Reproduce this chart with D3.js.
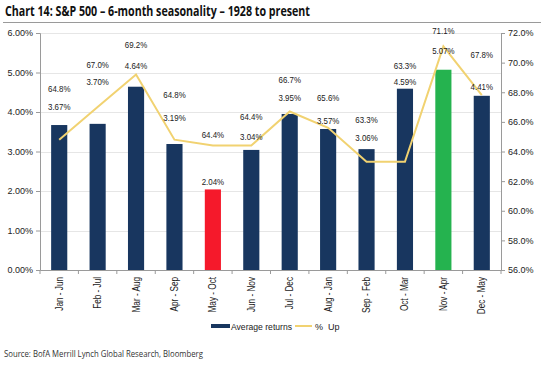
<!DOCTYPE html>
<html><head><meta charset="utf-8">
<script src="https://cdn.jsdelivr.net/npm/d3@7"></script>
<style>
body{margin:0;background:#fff;}
svg{display:block;font-family:"Liberation Sans",Arial,sans-serif;}
</style></head>
<body><svg id="c" width="543" height="366"></svg>
<script>
const categories = ["Jan - Jun","Feb - Jul","Mar - Aug","Apr - Sep","May - Oct","Jun - Nov","Jul - Dec","Aug - Jan","Sep - Feb","Oct - Mar","Nov - Apr","Dec - May"];
const avgReturns = [3.67,3.70,4.64,3.19,2.04,3.04,3.95,3.57,3.06,4.59,5.07,4.41];
const pctUp = [64.8,67.0,69.2,64.8,64.4,64.4,66.7,65.6,63.3,63.3,71.1,67.8];
const leftTicks = [0,1,2,3,4,5,6];
const rightTicks = [56,58,60,62,64,66,68,70,72];
// layout-only label nudges (px above bar top / gap between the two labels)
const valueLift = [18,42,21,26,8,13,16,8,11,7,19,9];
const pctGap = [18,17,21,23,47,20,18,23,18,16,20,32];

const navy = "#18365f", red = "#f5192b", green = "#25b34f", yellow = "#f1d271";
const barColor = (c) => c === "May - Oct" ? red : c === "Nov - Apr" ? green : navy;

const svg = d3.select("#c");
const L = 40, R = 501, T = 33, B = 270;
const x = d3.scaleBand().domain(categories).range([L, R]).paddingInner(0.58).paddingOuter(0.29);
const yL = d3.scaleLinear().domain([0, 6]).range([B, T]);
const yR = d3.scaleLinear().domain([56, 72]).range([B, T]);

// title
svg.append("text").attr("x", 5).attr("y", 16).attr("font-family", "'Open Sans',sans-serif")
  .attr("font-weight", "bold").attr("font-size", 14).attr("fill", "#111")
  .attr("textLength", 305).attr("lengthAdjust", "spacingAndGlyphs")
  .text("Chart 14: S\u0026P 500 \u2013 6-month seasonality \u2013 1928 to present");
svg.append("line").attr("x1", 3).attr("x2", 541).attr("y1", 22.5).attr("y2", 22.5)
  .attr("stroke", "#9a9a9a").attr("stroke-width", 1);

// gridlines
svg.append("g").selectAll("line").data(leftTicks.slice(1)).join("line")
  .attr("x1", L).attr("x2", R).attr("y1", d => Math.round(yL(d)) + 0.5).attr("y2", d => Math.round(yL(d)) + 0.5)
  .attr("stroke", "#e6e6e6");

// left axis
const gl = svg.append("g").attr("transform", `translate(${L},0)`)
  .call(d3.axisLeft(yL).tickValues(leftTicks).tickSize(4).tickPadding(3).tickFormat(d => d.toFixed(2) + "%"));
// right axis
const gr = svg.append("g").attr("transform", `translate(${R},0)`)
  .call(d3.axisRight(yR).tickValues(rightTicks).tickSize(4).tickPadding(3).tickFormat(d => d.toFixed(1) + "%"));
[gl, gr].forEach(g => {
  g.select(".domain").attr("stroke", "#9a9a9a");
  g.selectAll(".tick line").attr("stroke", "#9a9a9a");
  g.selectAll("text").attr("font-size", 9).attr("fill", "#222").attr("font-family", "'Liberation Sans',Arial,sans-serif");
});

// bars
svg.append("g").selectAll("rect").data(categories).join("rect")
  .attr("x", d => x(d)).attr("width", x.bandwidth())
  .attr("y", (d, i) => yL(avgReturns[i])).attr("height", (d, i) => B - yL(avgReturns[i]))
  .attr("fill", d => barColor(d));

// x axis
const gx = svg.append("g").attr("transform", `translate(0,${B})`)
  .call(d3.axisBottom(x).tickSize(0).tickFormat(""));
gx.select(".domain").attr("stroke", "#9a9a9a");
const step = x.step();
svg.append("g").selectAll("line").data(d3.range(categories.length + 1)).join("line")
  .attr("x1", i => L + i * step).attr("x2", i => L + i * step)
  .attr("y1", B).attr("y2", B + 4).attr("stroke", "#9a9a9a");
svg.append("g").selectAll("text").data(categories).join("text")
  .attr("transform", d => `translate(${x(d) + x.bandwidth() / 2 + 3.5},${B + 7}) rotate(-90) scale(0.82,1)`)
  .attr("text-anchor", "end").attr("font-size", 10).attr("fill", "#222").text(d => d);

// line
const line = d3.line().x((d, i) => x(categories[i]) + x.bandwidth() / 2).y(d => yR(d));
svg.append("path").datum(pctUp).attr("d", line).attr("fill", "none")
  .attr("stroke", yellow).attr("stroke-width", 2);

// labels
const lab = svg.append("g").attr("font-size", 9).attr("fill", "#222").attr("text-anchor", "middle");
categories.forEach((c, i) => {
  const cx = x(c) + x.bandwidth() / 2;
  const vy = yL(avgReturns[i]) - valueLift[i];
  lab.append("text").attr("x", cx).attr("y", vy).attr("dy", "0.35em")
    .attr("transform", `translate(${cx},0) scale(0.88,1) translate(${-cx},0)`)
    .text(avgReturns[i].toFixed(2) + "%");
  lab.append("text").attr("x", cx).attr("y", vy - pctGap[i]).attr("dy", "0.35em")
    .attr("transform", `translate(${cx},0) scale(0.88,1) translate(${-cx},0)`)
    .text(pctUp[i].toFixed(1) + "%");
});

// legend
const lg = svg.append("g");
lg.append("rect").attr("x", 211).attr("y", 324).attr("width", 19).attr("height", 4).attr("fill", navy);
lg.append("text").attr("x", 231).attr("y", 329.5).attr("font-size", 9).attr("fill", "#222")
  .attr("textLength", 61).attr("lengthAdjust", "spacingAndGlyphs").text("Average returns");
lg.append("line").attr("x1", 295).attr("x2", 312).attr("y1", 326).attr("y2", 326)
  .attr("stroke", yellow).attr("stroke-width", 2);
lg.append("text").attr("x", 315).attr("y", 329.5).attr("font-size", 9).attr("fill", "#222")
  .attr("xml:space", "preserve").style("white-space", "pre").text("%  Up");

// source
svg.append("text").attr("x", 4).attr("y", 357).attr("font-size", 9.5).attr("fill", "#333")
  .attr("font-family", "'Open Sans',sans-serif")
  .attr("textLength", 199).attr("lengthAdjust", "spacingAndGlyphs")
  .text("Source:  BofA Merrill Lynch Global Research, Bloomberg");
</script></body></html>
